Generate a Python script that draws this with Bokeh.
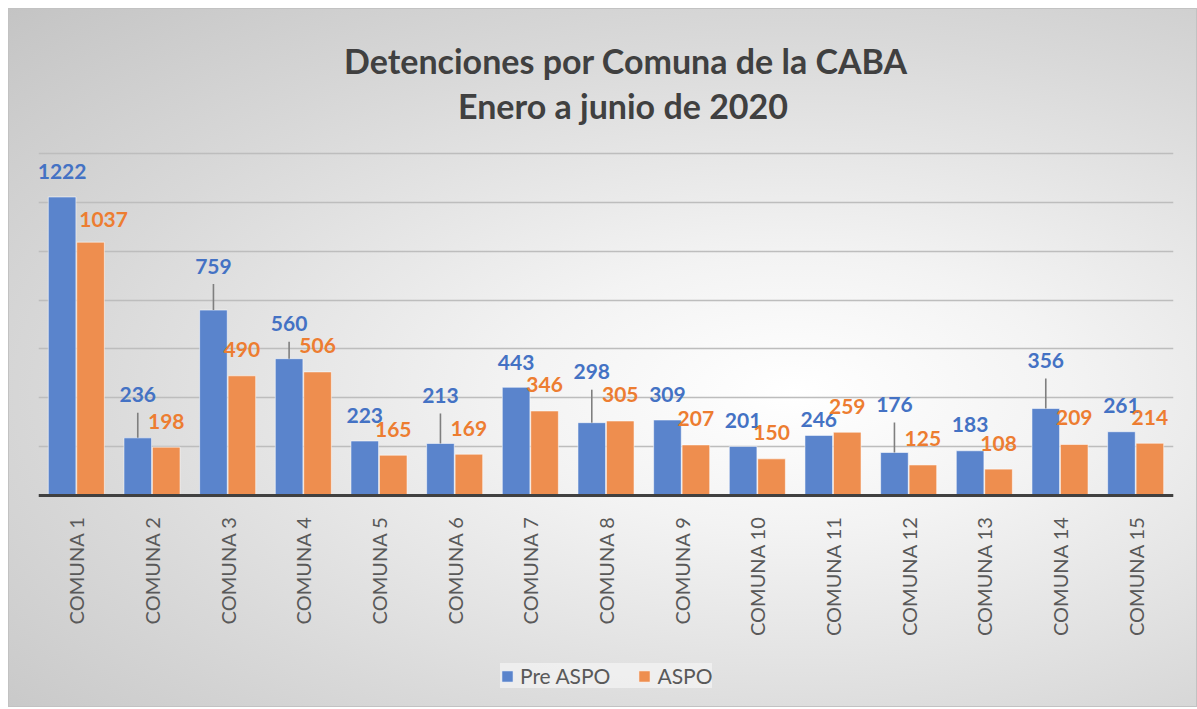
import math
from bokeh.plotting import figure
from bokeh.models import ColumnDataSource, FactorRange, Range1d, Legend, LegendItem
from bokeh.transform import dodge
from bokeh.core.properties import value
from bokeh.embed import file_html
from bokeh.resources import INLINE

# ---------------- data ----------------
comunas = ["COMUNA 1", "COMUNA 2", "COMUNA 3", "COMUNA 4", "COMUNA 5",
           "COMUNA 6", "COMUNA 7", "COMUNA 8", "COMUNA 9", "COMUNA 10",
           "COMUNA 11", "COMUNA 12", "COMUNA 13", "COMUNA 14", "COMUNA 15"]
pre_aspo = [1222, 236, 759, 560, 223, 213, 443, 298, 309, 201, 246, 176, 183, 356, 261]
aspo = [1037, 198, 490, 506, 165, 169, 346, 305, 207, 150, 259, 125, 108, 209, 214]
grid_ticks = [0, 200, 400, 600, 800, 1000, 1200, 1400]
series_names = ["Pre ASPO", "ASPO"]
title_lines = ["Detenciones por Comuna de la CABA", "Enero a junio de 2020"]

# ---------------- style ----------------
FONT = "Lato"
BLUE_BAR = "#5a84cc"
ORANGE_BAR = "#ee8e4f"
BLUE_TXT = "#4472c4"
ORANGE_TXT = "#ed7d31"
Y_MAX = 1400
PLOT_H = 342            # px from 0 to Y_MAX
TOP_PAD = 145           # px of frame above the Y_MAX line (title area)
BOT_PAD = 212           # px of frame below the 0 line (category labels + legend)
FRAME_W = 1135
FRAME_H = PLOT_H + TOP_PAD + BOT_PAD
ppu = PLOT_H / Y_MAX
Y_TOP = Y_MAX + TOP_PAD / ppu
Y_BOT = -BOT_PAD / ppu
# manual data-label lifts (pixels above bar top), as in the original layout
blue_lift = [25, 43, 44, 35, 26, 48, 25, 51, 26, 26, 16, 48, 26, 48, 26]
orange_lift = [23, 26, 26, 26, 26, 26, 26, 26, 26, 26, 26, 26, 26, 27, 26]
orange_shift = [13, 0, 0, 0, 0, 0, 0, 0, 0, 0, 0, 0, 0, 0, 0]
blue_leader = [False, True, True, True, False, True, False, True, False,
               False, False, True, False, True, False]
LEADER_GAP = 18  # px between label centre and leader top

src = ColumnDataSource(dict(
    cat=comunas, pre=pre_aspo, aspo=aspo,
    pre_txt=[str(v) for v in pre_aspo], aspo_txt=[str(v) for v in aspo],
    pre_off=[-l for l in blue_lift], aspo_off=[-l for l in orange_lift],
    aspo_xoff=orange_shift,
))

p = figure(x_range=FactorRange(*comunas, range_padding=0), y_range=Range1d(Y_BOT, Y_TOP),
           frame_width=FRAME_W, frame_height=FRAME_H,
           min_border_left=30, min_border_right=24, min_border_top=0, min_border_bottom=0,
           output_backend="svg", toolbar_location=None, title=None)

p.styles = {
    "margin-left": "8px",
    "margin-top": "8px",
    "background": "radial-gradient(ellipse farthest-corner at 66% 55%, #ffffff 0%, #f3f3f3 25%, #d9d9d9 65%, #c4c4c4 100%)",
    "box-shadow": "inset 0 0 0 1px #c2c2c2",
}
p.border_fill_alpha = 0
p.background_fill_alpha = 0
p.outline_line_color = None

OFF = 0.188
W = 0.365
r1 = p.vbar(x=dodge("cat", -OFF, range=p.x_range), top="pre", bottom=0, width=W, source=src,
            fill_color=BLUE_BAR, line_color="white", line_alpha=0.55, line_width=1)
r2 = p.vbar(x=dodge("cat", OFF, range=p.x_range), top="aspo", bottom=0, width=W, source=src,
            fill_color=ORANGE_BAR, line_color="white", line_alpha=0.55, line_width=1)

# leader lines
lx, ly0, ly1 = [], [], []
for c, v, lift, has in zip(comunas, pre_aspo, blue_lift, blue_leader):
    if has:
        lx.append(c)
        ly0.append(v)
        ly1.append(v + (lift - LEADER_GAP) / ppu)
lsrc = ColumnDataSource(dict(x=lx, y0=ly0, y1=ly1))
p.segment(x0=dodge("x", -OFF, range=p.x_range), y0="y0",
          x1=dodge("x", -OFF, range=p.x_range), y1="y1", source=lsrc,
          line_color="#7f7f7f", line_width=1.6)

p.text(x=dodge("cat", -OFF, range=p.x_range), y="pre", text="pre_txt", y_offset="pre_off",
       source=src, text_align="center", text_baseline="middle",
       text_font=value(FONT), text_font_style="bold", text_font_size="21px", text_color=BLUE_TXT)
p.text(x=dodge("cat", OFF, range=p.x_range), y="aspo", text="aspo_txt", y_offset="aspo_off",
       x_offset="aspo_xoff",
       source=src, text_align="center", text_baseline="middle",
       text_font=value(FONT), text_font_style="bold", text_font_size="21px", text_color=ORANGE_TXT)

# chart title (two centred lines in the area above the plot)
tsrc = ColumnDataSource(dict(x=[comunas[7], comunas[7]], y=[Y_MAX, Y_MAX], text=title_lines,
                             xo=[20, 17], yo=[-93, -48]))
p.text(x="x", y="y", text="text", x_offset="xo", y_offset="yo", source=tsrc,
       text_align="center", text_baseline="middle", text_font=value(FONT),
       text_font_style="bold", text_font_size="34px", text_color="#404040")

# axes & grid
p.yaxis.visible = False
p.ygrid.ticker = grid_ticks
p.ygrid.grid_line_color = "#bdbdbd"
p.ygrid.grid_line_width = 1.3
p.xgrid.grid_line_color = None

xa = p.xaxis[0]
xa.fixed_location = 0
xa.axis_line_color = "#404040"
xa.axis_line_width = 3
xa.major_tick_line_color = None
xa.minor_tick_line_color = None
xa.major_label_orientation = math.pi / 2
xa.major_label_standoff = 15
xa.major_label_text_font = FONT
xa.major_label_text_font_size = "20px"
xa.major_label_text_color = "#595959"

legend = Legend(items=[LegendItem(label=series_names[0], renderers=[r1]),
                       LegendItem(label=series_names[1], renderers=[r2])],
                orientation="horizontal", location=(462, 19),
                label_text_font=FONT, label_text_font_size="21px", label_text_color="#595959",
                glyph_width=14, glyph_height=14, label_standoff=6, spacing=27,
                padding=11, margin=0,
                background_fill_color="#f8f8f8", background_fill_alpha=0.6,
                border_line_color=None)
p.add_layout(legend, "center")

open("out.html", "w").write(file_html(p, INLINE))
